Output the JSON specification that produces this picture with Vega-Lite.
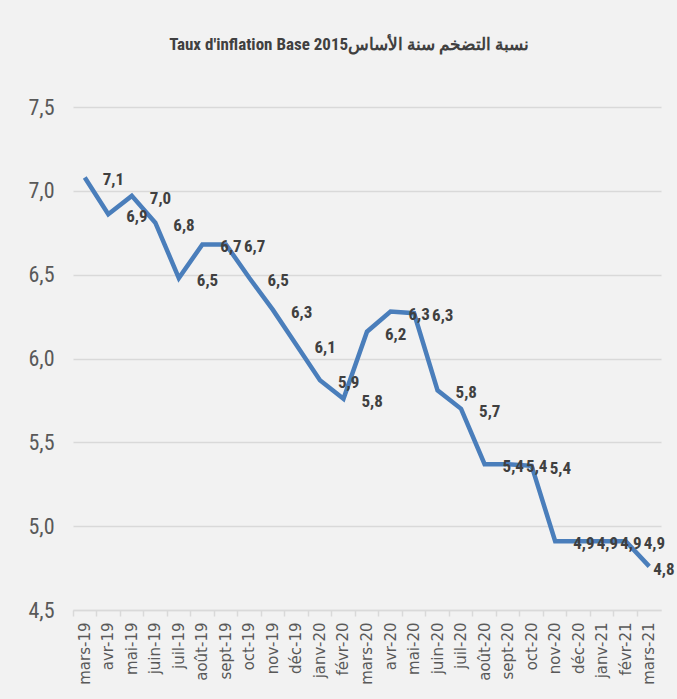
{
  "$schema": "https://vega.github.io/schema/vega-lite/v6.json",
  "width": 588,
  "height": 503,
  "autosize": "none",
  "padding": {"left": 73, "top": 107, "right": 16, "bottom": 89},
  "background": "#f2f2f2",
  "title": {
    "text": "Taux d'inflation Base  2015نسبة التضخم سنة الأساس",
    "font": "Roboto Condensed, Roboto, sans-serif",
    "fontSize": 17,
    "fontWeight": "bold",
    "color": "#404040",
    "anchor": "middle",
    "dx": -18,
    "offset": 42
  },
  "data": {
    "values": [
      {"month": "mars-19", "rate": 7.08, "label": "7,1"},
      {"month": "avr-19", "rate": 6.86, "label": "6,9"},
      {"month": "mai-19", "rate": 6.97, "label": "7,0"},
      {"month": "juin-19", "rate": 6.81, "label": "6,8"},
      {"month": "juil-19", "rate": 6.48, "label": "6,5"},
      {"month": "août-19", "rate": 6.68, "label": "6,7"},
      {"month": "sept-19", "rate": 6.68, "label": "6,7"},
      {"month": "oct-19", "rate": 6.48, "label": "6,5"},
      {"month": "nov-19", "rate": 6.29, "label": "6,3"},
      {"month": "déc-19", "rate": 6.08, "label": "6,1"},
      {"month": "janv-20", "rate": 5.87, "label": "5,9"},
      {"month": "févr-20", "rate": 5.76, "label": "5,8"},
      {"month": "mars-20", "rate": 6.16, "label": "6,2"},
      {"month": "avr-20", "rate": 6.28, "label": "6,3"},
      {"month": "mai-20", "rate": 6.27, "label": "6,3"},
      {"month": "juin-20", "rate": 5.81, "label": "5,8"},
      {"month": "juil-20", "rate": 5.70, "label": "5,7"},
      {"month": "août-20", "rate": 5.37, "label": "5,4"},
      {"month": "sept-20", "rate": 5.37, "label": "5,4"},
      {"month": "oct-20", "rate": 5.36, "label": "5,4"},
      {"month": "nov-20", "rate": 4.91, "label": "4,9"},
      {"month": "déc-20", "rate": 4.91, "label": "4,9"},
      {"month": "janv-21", "rate": 4.91, "label": "4,9"},
      {"month": "févr-21", "rate": 4.91, "label": "4,9"},
      {"month": "mars-21", "rate": 4.76, "label": "4,8"}
    ]
  },
  "encoding": {
    "x": {
      "field": "month",
      "type": "nominal",
      "sort": null,
      "bandPosition": 0.5,
      "scale": {"type": "band", "paddingInner": 0, "paddingOuter": 0},
      "axis": {
        "title": null,
        "bandPosition": 0,
        "labelAngle": -90,
        "labelAlign": "right",
        "labelBaseline": "middle",
        "labelFont": "DejaVu Sans",
        "labelFontSize": 15,
        "labelColor": "#595959",
        "labelPadding": 6,
        "domainColor": "#d9d9d9",
        "domainWidth": 1.5,
        "tickColor": "#d9d9d9",
        "tickWidth": 1.5,
        "tickSize": 6,
        "grid": false
      }
    },
    "y": {
      "field": "rate",
      "type": "quantitative",
      "scale": {"domain": [4.5, 7.5], "nice": false, "zero": false},
      "axis": {
        "title": null,
        "values": [4.5, 5, 5.5, 6, 6.5, 7, 7.5],
        "labelExpr": "replace(format(datum.value, '.1f'), '.', ',')",
        "labelFont": "Roboto Condensed, Roboto, sans-serif",
        "labelFontSize": 22,
        "labelColor": "#595959",
        "labelPadding": 19,
        "domain": false,
        "ticks": false,
        "grid": true,
        "gridColor": "#d9d9d9",
        "gridWidth": 1.5
      }
    }
  },
  "layer": [
    {
      "mark": {"type": "line", "color": "#4a7ebb", "strokeWidth": 4.5, "strokeJoin": "miter"}
    },
    {
      "transform": [{"filter": "datum.month != 'mars-21'"}],
      "mark": {
        "type": "text",
        "align": "left",
        "baseline": "middle",
        "dx": 18,
        "dy": 3,
        "font": "Roboto Condensed, Roboto, sans-serif",
        "fontSize": 17,
        "fontWeight": "bold",
        "color": "#404040"
      },
      "encoding": {"text": {"field": "label"}}
    },
    {
      "transform": [{"filter": "datum.month == 'mars-21'"}],
      "mark": {
        "type": "text",
        "align": "left",
        "baseline": "middle",
        "dx": 4,
        "dy": 4,
        "font": "Roboto Condensed, Roboto, sans-serif",
        "fontSize": 17,
        "fontWeight": "bold",
        "color": "#404040"
      },
      "encoding": {"text": {"field": "label"}}
    }
  ],
  "config": {"view": {"stroke": null}}
}
